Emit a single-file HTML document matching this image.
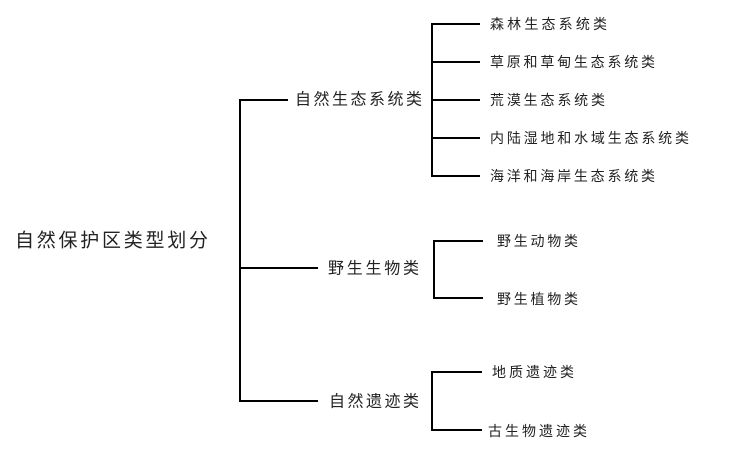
<!DOCTYPE html>
<html><head><meta charset="utf-8"><style>
html,body{margin:0;padding:0;background:#fff;}
svg{display:block;}
text{font-family:"Liberation Sans","Noto Sans CJK SC",sans-serif;fill:#222;dominant-baseline:central;}
</style></head><body>
<svg width="730" height="461" viewBox="0 0 730 461" xmlns="http://www.w3.org/2000/svg">
<g stroke="#000" stroke-width="2" fill="none">
<polyline points="288,100 240,100 240,401 318,401"/>
<line x1="240" y1="268" x2="318" y2="268"/>
<polyline points="480,24 432,24 432,176 480,176"/>
<line x1="432" y1="62" x2="480" y2="62"/>
<line x1="432" y1="100" x2="480" y2="100"/>
<line x1="432" y1="138" x2="480" y2="138"/>
<polyline points="483,241 434,241 434,298 483,298"/>
<polyline points="482,372 432,372 432,430 482,430"/>
</g>
<text x="15" y="241" font-size="19" textLength="193" lengthAdjust="spacing">自然保护区类型划分</text>
<text x="295" y="100" font-size="16" textLength="127" lengthAdjust="spacing">自然生态系统类</text>
<text x="328" y="269" font-size="16" textLength="91" lengthAdjust="spacing">野生生物类</text>
<text x="329" y="402" font-size="16" textLength="90" lengthAdjust="spacing">自然遗迹类</text>
<text x="490" y="24" font-size="14" textLength="117" lengthAdjust="spacing">森林生态系统类</text>
<text x="490" y="62" font-size="14" textLength="165" lengthAdjust="spacing">草原和草甸生态系统类</text>
<text x="490" y="100" font-size="14" textLength="115" lengthAdjust="spacing">荒漠生态系统类</text>
<text x="490" y="138" font-size="14" textLength="199" lengthAdjust="spacing">内陆湿地和水域生态系统类</text>
<text x="490" y="176" font-size="14" textLength="165" lengthAdjust="spacing">海洋和海岸生态系统类</text>
<text x="497" y="241" font-size="14" textLength="81" lengthAdjust="spacing">野生动物类</text>
<text x="497" y="299" font-size="14" textLength="81" lengthAdjust="spacing">野生植物类</text>
<text x="492" y="372" font-size="14" textLength="82" lengthAdjust="spacing">地质遗迹类</text>
<text x="488" y="431" font-size="14" textLength="99" lengthAdjust="spacing">古生物遗迹类</text>
</svg>
</body></html>
